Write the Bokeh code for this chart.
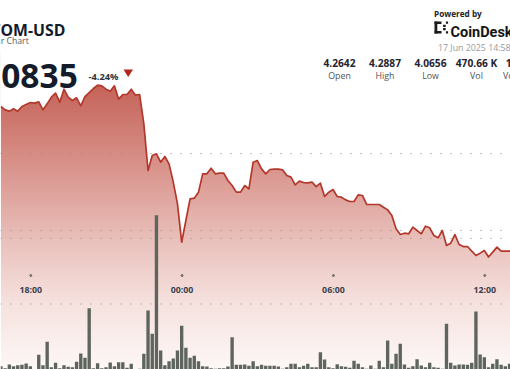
import numpy as np
import pandas as pd
from bokeh.plotting import figure
from bokeh.models import (Range1d, Label, LabelSet, ColumnDataSource,
                          BoxAnnotation, PolyAnnotation)
from bokeh.core.properties import value
from bokeh.embed import file_html
from bokeh.resources import INLINE

# ---------------- data ----------------
symbol = "ATOM-USD"
subtitle = "24 Hour Chart"
last_price = "4.0835"
change_pct = "-4.24%"
powered = "Powered by"
brand = "CoinDesk"
stamp = "17 Jun 2025 14:58"
stat_values = ["4.2642", "4.2887", "4.0656", "470.66 K", "1.96 M"]
stat_names = ["Open", "High", "Low", "Vol", "Vol (USD)"]
tick_labels = ["18:00", "00:00", "06:00", "12:00"]
tick_times = pd.to_datetime(["2025-06-16 18:00", "2025-06-17 00:00",
                             "2025-06-17 06:00", "2025-06-17 12:00"])
price_grid = [4.10, 4.20]
volume_grid = [20.0, 40.0]   # thousands

price = [4.2610, 4.2567, 4.2550, 4.2580, 4.2550, 4.2610, 4.2636, 4.2662, 4.2654, 4.2671,
         4.2567, 4.2645, 4.2732, 4.2784, 4.2667, 4.2835, 4.2732, 4.2688, 4.2723, 4.2619,
         4.2740, 4.2792, 4.2844, 4.2887, 4.2879, 4.2835, 4.2809, 4.2879, 4.2706, 4.2766,
         4.2766, 4.2835, 4.2758, 4.2766, 4.2385, 4.1779, 4.1974, 4.1996, 4.1887, 4.1961,
         4.1866, 4.1628, 4.1346, 4.0848, 4.1130, 4.1411, 4.1420, 4.1498, 4.1736, 4.1736,
         4.1809, 4.1736, 4.1745, 4.1745, 4.1649, 4.1584, 4.1498, 4.1498, 4.1584, 4.1541,
         4.1887, 4.1909, 4.1801, 4.1736, 4.1792, 4.1796, 4.1796, 4.1788, 4.1714, 4.1693,
         4.1593, 4.1641, 4.1623, 4.1619, 4.1628, 4.1571, 4.1615, 4.1442, 4.1498, 4.1532,
         4.1442, 4.1433, 4.1398, 4.1377, 4.1377, 4.1463, 4.1455, 4.1338, 4.1338, 4.1338,
         4.1338, 4.1303, 4.1268, 4.1195, 4.1022, 4.0948, 4.0965, 4.0957, 4.1043, 4.1000,
         4.0957, 4.1056, 4.1035, 4.0935, 4.0905, 4.1000, 4.0805, 4.0835, 4.0948, 4.0818,
         4.0792, 4.0792, 4.0732, 4.0675, 4.0706, 4.0740, 4.0656, 4.0719, 4.0784, 4.0732,
         4.0732, 4.0732, 4.0732]

volume_k = [1.01, 0.40, 1.53, 1.01, 1.31, 1.43, 1.83, 1.01, 0.15, 4.49,
            1.31, 8.46, 0.70, 2.05, 0.40, 1.31, 0.82, 0.70, 2.35, 4.88,
            3.57, 18.71, 0.40, 1.92, 0.40, 0.70, 2.14, 1.01, 2.23, 2.23,
            0.52, 1.74, 0.15, 0.21, 4.79, 18.01, 10.90, 47.11, 5.80, 1.31,
            2.53, 3.36, 5.80, 13.34, 6.62, 3.57, 4.18, 2.53, 1.01, 0.92,
            0.40, 0.21, 0.40, 0.40, 0.92, 9.86, 1.43, 1.43, 1.53, 1.13,
            2.53, 1.01, 1.43, 1.13, 1.13, 1.13, 0.92, 0.21, 0.70, 1.74,
            1.74, 0.70, 1.13, 1.74, 0.70, 0.70, 5.28, 3.05, 0.70, 0.40,
            1.62, 1.01, 0.82, 0.52, 2.66, 1.74, 0.70, 0.21, 1.22, 0.21,
            2.66, 0.70, 8.85, 1.74, 4.79, 7.85, 1.53, 0.52, 1.01, 3.14,
            1.22, 0.70, 2.05, 0.70, 0.52, 0.21, 13.95, 2.05, 1.22, 1.53,
            1.53, 1.43, 2.05, 17.71, 4.58, 3.76, 0.70, 1.74, 3.14, 1.43,
            1.01, 1.74, 2.05]

times = pd.date_range("2025-06-16 16:49", periods=len(price), freq="10min")

# ---------------- layout helpers ----------------
W, H = 510, 369
REF_W, REF_H = 510, 369
SX, SY = W / REF_W, H / REF_H
FS = (SX + SY) / 2


def sx(px):
    return px * SX


def sy(py):
    return (REF_H - py) * SY


def fpx(s):
    return f"{s * FS:.1f}px"


x_start = pd.Timestamp("2025-06-16 16:48:00")
x_end = pd.Timestamp("2025-06-17 13:01:15")
p_lo, p_hi = 3.9195, 4.3987
v_lo, v_hi = 0.0, 112.65


def price_at(py):
    return p_lo + (p_hi - p_lo) * (REF_H - py) / REF_H


p = figure(width=W, height=H, x_axis_type="datetime",
           x_range=Range1d(x_start, x_end), y_range=Range1d(p_lo, p_hi),
           x_axis_location=None, y_axis_location=None,
           toolbar_location=None, output_backend="svg", min_border=0)
p.extra_y_ranges = {"vol": Range1d(v_lo, v_hi)}
p.grid.visible = False
p.outline_line_color = None
p.background_fill_color = "white"
p.border_fill_color = "white"

# ---------------- gradient fill under the price line ----------------
stops_px = [85, 160, 240, 300, 369]
stops_rgb = np.array([(197, 99, 89), (215, 143, 135), (233, 192, 187),
                      (245, 224, 221), (253, 248, 247)], dtype=float)
edges = np.arange(369.0, 50.0, -3.0)
bottoms, tops, cols = [], [], []
for k in range(len(edges) - 1):
    b, t = edges[k], edges[k + 1]
    mid = (b + t) / 2
    rgb = [np.interp(mid, stops_px, stops_rgb[:, c]) for c in range(3)]
    cols.append("#%02x%02x%02x" % tuple(int(round(v)) for v in rgb))
    bottoms.append(price_at(b))
    tops.append(price_at(t - 0.7))
p.quad(left=times[0], right=times[-1], bottom=bottoms, top=tops,
       fill_color=cols, line_color=None)
# white mask above the line
p.varea(x=times, y1=price, y2=p_hi + 0.05, fill_color="white")

# ---------------- dotted grid ----------------
for g in price_grid:
    p.segment(x0=x_start, x1=x_end, y0=g, y1=g, line_color="#8e8e8e",
              line_width=1, line_dash="1 9")
for g in volume_grid:
    p.segment(x0=x_start, x1=x_end, y0=g, y1=g, line_color="#8e8e8e",
              line_width=1, line_dash="1 9", y_range_name="vol")

# ---------------- price line ----------------
p.line(times, price, line_color="#b3372a", line_width=1.7, line_join="round")

# ---------------- volume bars ----------------
p.vbar(x=times, top=volume_k, bottom=0, width=8 * 60 * 1000,
       y_range_name="vol", fill_color="#5e645e", line_color=None)

# ---------------- time ticks ----------------
p.scatter(tick_times, [price_at(275)] * len(tick_times), size=2,
          color="#6e6e6e")
tsrc = ColumnDataSource(dict(x=tick_times, text=tick_labels))
p.add_layout(LabelSet(x="x", y=sy(292.7), y_units="screen", text="text",
                      source=tsrc, text_align="center",
                      text_baseline="alphabetic",
                      text_font=value("Open Sans"),
                      text_font_style="bold", text_font_size=fpx(8.8),
                      text_color="#3b404a"))


# ---------------- header ----------------
def label(px, py, text, size, color, bold=False, align="left", font="Open Sans"):
    p.add_layout(Label(x=sx(px), y=sy(py), x_units="screen", y_units="screen",
                       text=text, text_font=font,
                       text_font_style="bold" if bold else "normal",
                       text_font_size=fpx(size), text_color=color,
                       text_align=align, text_baseline="alphabetic"))


label(-20, 29.5, symbol, 15.8, "#141b2b", bold=True)
label(-29, 40.5, subtitle, 8.7, "#555a62")
label(-28, 75.3, last_price, 33.5, "#141b2b", bold=True)
label(88, 75.5, change_pct, 9.3, "#30343c", bold=True)
p.add_layout(PolyAnnotation(xs=[sx(123), sx(132.5), sx(127.7)],
                            ys=[sy(69), sy(69), sy(76.5)],
                            xs_units="screen", ys_units="screen",
                            fill_color="#b3241a", fill_alpha=1,
                            line_color=None))

label(433.5, 12.8, powered, 8.2, "#222222", bold=True)
label(450, 32.3, brand, 14.5, "#151515", bold=True, font="Roboto")
label(437.5, 47.5, stamp, 8.8, "#9a9a9a")

# CoinDesk mark (small blocks)
logo_blocks = [(434, 436.8, 21, 33), (434, 441, 21, 23.6), (434, 441, 30.4, 33),
               (442.6, 445.2, 24.2, 26.6), (442.6, 445.2, 27.4, 29.8),
               (445.4, 447.6, 21, 23.2), (445.4, 447.6, 30.8, 33)]
for l, r, t, b in logo_blocks:
    p.add_layout(BoxAnnotation(left=sx(l), right=sx(r), top=sy(t), bottom=sy(b),
                               left_units="screen", right_units="screen",
                               top_units="screen", bottom_units="screen",
                               fill_color="#1b1b1b", fill_alpha=1,
                               line_color=None, level="overlay"))

stat_x = [339, 384.5, 430, 476, 521.5]
for cx, v, n in zip(stat_x, stat_values, stat_names):
    label(cx, 62.8, v, 10.2, "#1f2430", bold=True, align="center")
    label(cx, 75.2, n, 8.8, "#4d5259", align="center")

open("out.html", "w").write(file_html(p, INLINE))
